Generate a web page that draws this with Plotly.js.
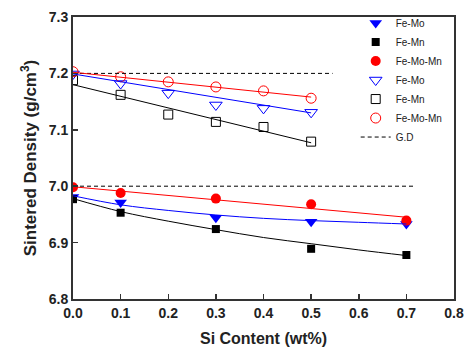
<!DOCTYPE html>
<html>
<head>
<meta charset="utf-8">
<script src="https://cdn.plot.ly/plotly-3.0.1.min.js"></script>
<style>html,body{margin:0;padding:0;background:#fff}#chart{width:474px;height:361px}</style>
</head>
<body>
<div id="chart"></div>
<script>
// Lower group (filled markers): Si content 0, 0.1, 0.3, 0.5, 0.7
const siLow = [0.0, 0.1, 0.3, 0.5, 0.7];
const feMoLow = [6.981, 6.971, 6.944, 6.937, 6.933];
const feMnLow = [6.977, 6.953, 6.924, 6.889, 6.878];
const feMoMnLow = [6.998, 6.988, 6.978, 6.968, 6.939];

// Upper group (open markers): Si content 0 .. 0.5
const siHigh = [0.0, 0.1, 0.2, 0.3, 0.4, 0.5];
const feMoHigh = [7.199, 7.182, 7.165, 7.144, 7.138, 7.131];
const feMnHigh = [7.188, 7.162, 7.127, 7.114, 7.105, 7.079];
const feMoMnHigh = [7.203, 7.194, 7.185, 7.176, 7.169, 7.156];

// Fit curves
const fitXLow = [0.0, 0.1, 0.2, 0.3, 0.4, 0.5, 0.6, 0.7];
const fitFeMoLow = [6.983, 6.967, 6.957, 6.949, 6.943, 6.939, 6.936, 6.933];
const fitFeMnLow = [6.978, 6.955, 6.938, 6.923, 6.909, 6.898, 6.887, 6.877];
const fitFeMoMnLowX = [0.0, 0.7];
const fitFeMoMnLow = [6.999, 6.945];
const fitXHigh = [0.0, 0.5];
const fitFeMoHigh = [7.199, 7.130];
const fitFeMnHigh = [7.180, 7.077];
const fitFeMoMnHigh = [7.202, 7.158];

// Theoretical (G.D) reference lines
const gdHighX = [0.0, 0.545];
const gdHighY = [7.2, 7.2];
const gdLowX = [0.0, 0.715];
const gdLowY = [7.0, 7.0];

const names = ['Fe-Mo', 'Fe-Mn', 'Fe-Mo-Mn', 'Fe-Mo', 'Fe-Mn', 'Fe-Mo-Mn', 'G.D'];

const traces = [
  {x: siLow, y: feMoLow, name: names[0], mode: 'markers', marker: {symbol: 'triangle-down', size: 11, color: '#0000ff'}},
  {x: siLow, y: feMnLow, name: names[1], mode: 'markers', marker: {symbol: 'square', size: 8, color: '#000000'}},
  {x: siLow, y: feMoMnLow, name: names[2], mode: 'markers', marker: {symbol: 'circle', size: 10, color: '#ff0000'}},
  {x: siHigh, y: feMoHigh, name: names[3], mode: 'markers', marker: {symbol: 'triangle-down-open', size: 11, color: '#0000ff', line: {width: 1}}},
  {x: siHigh, y: feMnHigh, name: names[4], mode: 'markers', marker: {symbol: 'square-open', size: 9, color: '#000000', line: {width: 1}}},
  {x: siHigh, y: feMoMnHigh, name: names[5], mode: 'markers', marker: {symbol: 'circle-open', size: 10, color: '#ff0000', line: {width: 1}}},
  {x: gdHighX, y: gdHighY, name: names[6], mode: 'lines', line: {color: '#000', width: 1, dash: '4px,3px'}},
  {x: gdLowX, y: gdLowY, name: names[6], mode: 'lines', showlegend: false, line: {color: '#000', width: 1, dash: '4px,3px'}},
  {x: fitXLow, y: fitFeMoLow, mode: 'lines', showlegend: false, line: {color: '#0000ff', width: 1, shape: 'spline'}},
  {x: fitXLow, y: fitFeMnLow, mode: 'lines', showlegend: false, line: {color: '#000', width: 1, shape: 'spline'}},
  {x: fitFeMoMnLowX, y: fitFeMoMnLow, mode: 'lines', showlegend: false, line: {color: '#ff0000', width: 1}},
  {x: fitXHigh, y: fitFeMoHigh, mode: 'lines', showlegend: false, line: {color: '#0000ff', width: 1}},
  {x: fitXHigh, y: fitFeMnHigh, mode: 'lines', showlegend: false, line: {color: '#000', width: 1}},
  {x: fitXHigh, y: fitFeMoMnHigh, mode: 'lines', showlegend: false, line: {color: '#ff0000', width: 1}}
];

const layout = {
  width: 474, height: 361,
  margin: {l: 73, r: 20, t: 17, b: 62, autoexpand: false},
  paper_bgcolor: '#fff', plot_bgcolor: '#fff',
  showlegend: true,
  legend: {x: 0.742, y: 1.03, xanchor: 'left', yanchor: 'top', bgcolor: 'rgba(0,0,0,0)',
           font: {family: 'Liberation Sans, Arial, sans-serif', size: 10, color: '#222'}, tracegroupgap: 0},
  xaxis: {
    range: [0, 0.8], dtick: 0.1, tick0: 0, tickformat: '.1f',
    showgrid: false, zeroline: false, showline: true, mirror: true,
    linecolor: '#333', linewidth: 2, ticks: 'inside', ticklen: 5, tickwidth: 1.5, tickcolor: '#333',
    tickfont: {family: 'Liberation Sans, Arial, sans-serif', size: 14, color: '#222', weight: 'bold'},
    title: {text: '<b>Si Content (wt%)</b>', font: {family: 'Liberation Sans, Arial, sans-serif', size: 16, color: '#222'}, standoff: 13}
  },
  yaxis: {
    range: [6.8, 7.3], dtick: 0.1, tick0: 6.8, tickformat: '.1f',
    showgrid: false, zeroline: false, showline: true, mirror: true,
    linecolor: '#333', linewidth: 2, ticks: 'inside', ticklen: 5, tickwidth: 1.5, tickcolor: '#333',
    tickfont: {family: 'Liberation Sans, Arial, sans-serif', size: 14, color: '#222', weight: 'bold'},
    title: {text: '<b>Sintered Density (g/cm<sup>3</sup>)</b>', font: {family: 'Liberation Sans, Arial, sans-serif', size: 17, color: '#222'}, standoff: 8}
  }
};

Plotly.newPlot('chart', traces, layout, {displayModeBar: false, staticPlot: true});
</script>
</body>
</html>
